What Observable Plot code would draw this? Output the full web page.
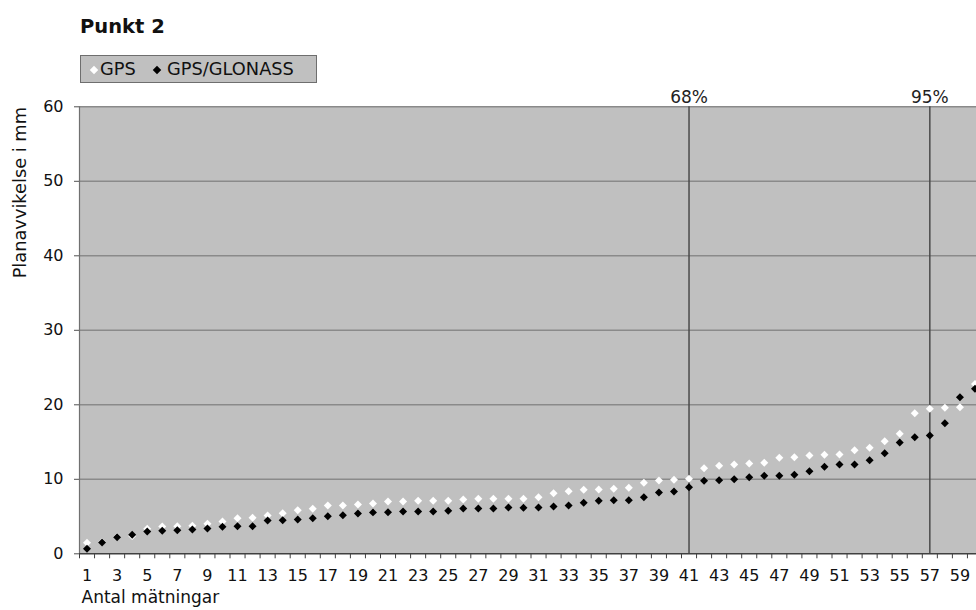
<!DOCTYPE html>
<html><head><meta charset="utf-8">
<script src="https://cdn.jsdelivr.net/npm/d3@7"></script>
<script src="https://cdn.jsdelivr.net/npm/@observablehq/plot@0.6"></script>
<style>
html,body{margin:0;padding:0;background:#fff;overflow:hidden;}
#wrap{position:relative;width:976px;height:610px;overflow:hidden;font-family:"DejaVu Sans",Verdana,sans-serif;color:#111;}
#title{position:absolute;left:80px;top:17px;font-size:19.5px;font-weight:bold;line-height:1;white-space:nowrap;}
#legend{position:absolute;left:80px;top:55px;width:235px;height:26px;background:#c0c0c0;border:1px solid #6e6e6e;}
#legend .t{position:absolute;top:4px;font-size:17.8px;line-height:1;white-space:nowrap;}
#legend .m{position:absolute;width:6px;height:6px;transform:rotate(45deg);top:11px;}
#ytitle{position:absolute;left:11px;top:107px;font-size:17.8px;line-height:1;white-space:nowrap;transform:rotate(-90deg) translateX(-100%);transform-origin:top left;}
#chart{position:absolute;left:0;top:88px;}
</style></head><body>
<div id="wrap">
  <div id="title">Punkt 2</div>
  <div id="legend">
    <div class="m" style="left:10px;background:#fff"></div><div class="t" style="left:19px">GPS</div>
    <div class="m" style="left:73px;background:#000"></div><div class="t" style="left:86px">GPS/GLONASS</div>
  </div>
  <div id="ytitle">Planavvikelse i mm</div>
  <div id="chart"></div>
</div>
<script>
const measurements = [1,2,3,4,5,6,7,8,9,10,11,12,13,14,15,16,17,18,19,20,21,22,23,24,25,26,27,28,29,30,
  31,32,33,34,35,36,37,38,39,40,41,42,43,44,45,46,47,48,49,50,51,52,53,54,55,56,57,58,59,60];
const gps = [1.48,1.6,2.3,2.4,3.36,3.66,3.7,3.76,4.03,4.34,4.78,4.83,5.13,5.45,5.85,6.04,6.48,6.48,6.62,6.75,
  7.02,7.02,7.11,7.11,7.11,7.29,7.38,7.38,7.38,7.4,7.6,8.13,8.4,8.59,8.63,8.72,8.86,9.53,9.84,9.93,
  10.07,11.49,11.81,11.99,12.12,12.21,12.89,12.97,13.2,13.29,13.33,13.91,14.23,15.11,16.11,18.87,19.46,19.6,19.68,22.8];
const gpsGlonass = [0.67,1.52,2.23,2.55,2.99,3.09,3.17,3.26,3.4,3.62,3.7,3.7,4.47,4.51,4.6,4.78,5.05,5.18,5.41,5.56,
  5.58,5.68,5.68,5.68,5.77,6.08,6.08,6.08,6.21,6.17,6.21,6.35,6.48,6.84,7.11,7.2,7.2,7.6,8.23,8.36,
  8.94,9.8,9.88,10.01,10.28,10.47,10.47,10.6,11.09,11.68,11.99,11.99,12.56,13.5,14.94,15.65,15.88,17.53,21.02,22.15];
const percentileLabels = ["68%", "95%"];
const percentilePositions = [41, 57];
const yTicks = [0, 10, 20, 30, 40, 50, 60];
const yGrid = [10, 20, 30, 40, 50, 60];
const xTickLabels = [1,3,5,7,9,11,13,15,17,19,21,23,25,27,29,31,33,35,37,39,41,43,45,47,49,51,53,55,57,59];

const data = measurements.map((m, i) => ({m, gps: gps[i], gg: gpsGlonass[i]}));
const boundaries = measurements.map(m => m - 0.5).concat([measurements[measurements.length - 1] + 0.5]);

const chart = Plot.plot({
  width: 982, height: 522,
  marginLeft: 79, marginRight: 0, marginTop: 18.3, marginBottom: 56.7,
  style: {background: "transparent", fontFamily: "DejaVu Sans, Verdana, sans-serif", fontSize: "16px", maxWidth: "none", overflow: "visible", color: "#111"},
  x: {domain: [0.5, 60.5], axis: null},
  y: {domain: [0, 60], axis: null},
  marks: [
    Plot.frame({fill: "#c0c0c0", stroke: "none"}),
    Plot.ruleY(yGrid, {stroke: "#8a8a8a", strokeWidth: 1.5}),
    Plot.ruleX(percentilePositions, {stroke: "#4a4a4a", strokeWidth: 1.5}),
    Plot.ruleX([0.5], {stroke: "#707070", strokeWidth: 1.2}),
    Plot.ruleY([0], {stroke: "#404040", strokeWidth: 1.5}),
    Plot.axisY({ticks: yTicks, tickSize: 5, tickPadding: 11, label: null, fontSize: 16, stroke: "#505050"}),
    Plot.axisX({ticks: boundaries, tickSize: 5, tickFormat: () => "", label: null, stroke: "#404040"}),
    Plot.axisX({ticks: xTickLabels, tickSize: 0, tickPadding: 16, label: null, fontSize: 16}),
    Plot.text(["Antal mätningar"], {frameAnchor: "bottom-left", dx: 2, dy: 49, textAnchor: "start", lineAnchor: "bottom", fontSize: 17}),
    Plot.text(percentilePositions, {x: d => d, text: (d, i) => percentileLabels[i], frameAnchor: "top", dy: -4, lineAnchor: "bottom", fontSize: 17, fill: "#222"}),
    Plot.dot(data, {x: "m", y: "gps", symbol: "diamond2", r: 3.6, fill: "white", stroke: "none"}),
    Plot.dot(data, {x: "m", y: "gg", symbol: "diamond2", r: 3.6, fill: "black", stroke: "none"})
  ]
});
document.getElementById("chart").appendChild(chart);
</script>
</body></html>
